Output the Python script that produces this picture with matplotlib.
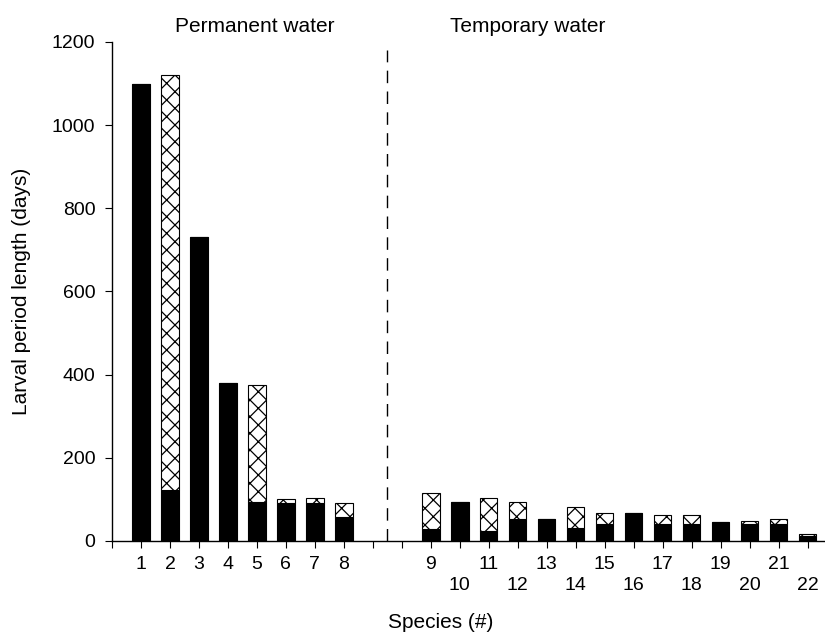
""" Larval period length per species, permanent vs temporary water

"""

import matplotlib
matplotlib.use("Agg")
import matplotlib.pyplot as plt

# --------------------------------------------------
#   Data
# --------------------------------------------------

species = list(range(1, 23))
# black part of each bar (days)
black_part = [1100, 122, 730, 380, 93, 92, 92, 58,
              30, 93, 25, 52, 52, 32, 41, 68, 41, 40, 46, 42, 41, 12]
# total bar height, top of the hatched part (days)
total = [1100, 1120, 730, 380, 375, 100, 103, 92,
         115, 93, 104, 93, 52, 82, 68, 68, 62, 62, 46, 47, 52, 18]
group_titles = ["Permanent water", "Temporary water"]

# --------------------------------------------------
#   Plot
# --------------------------------------------------

plt.rcParams["font.family"] = ["Liberation Sans", "DejaVu Sans"]
plt.rcParams["hatch.linewidth"] = 0.9

# species 1-8 at positions 1-8, two empty slots, then 9-22 at 11-24
positions = [s if s <= 8 else s + 2 for s in species]
hatched = [t - b for t, b in zip(total, black_part)]

fig = plt.figure(figsize=(8.25, 6.34), dpi=100)
ax = fig.add_axes([0.1358, 0.1467, 0.8642, 0.7871])

ax.bar(positions, black_part, width=0.6, color="black",
       edgecolor="black", linewidth=0.8)
ax.bar(positions, hatched, width=0.6, bottom=black_part, color="white",
       edgecolor="black", linewidth=0.8, hatch="xx")

ax.plot([9.5, 9.5], [0, 1180], color="black", linewidth=1.0,
        dashes=(9, 6))

ax.set_xlim(0, 24.6)
ax.set_ylim(0, 1200)
ax.set_yticks(range(0, 1201, 200))

tick_labels = [""] * 25
for s, p in zip(species, positions):
    tick_labels[p] = str(s) if (s <= 8 or s % 2 == 1) else "\n" + str(s)
ax.set_xticks(range(25))
ax.set_xticklabels(tick_labels, linespacing=1.3)

ax.tick_params(axis="both", direction="out", length=5, width=0.8,
               labelsize=14)
ax.tick_params(axis="x", pad=6)
ax.tick_params(axis="y", pad=7)
for side in ["top", "right"]:
    ax.spines[side].set_visible(False)
for side in ["left", "bottom"]:
    ax.spines[side].set_linewidth(1.0)

ax.set_ylabel("Larval period length (days)", fontsize=15, va="center")
ax.yaxis.set_label_coords((21 - 112) / 713, 0.5)
ax.set_xlabel("Species (#)", fontsize=15, va="center")
ax.xaxis.set_label_coords((441 - 112) / 713, (541 - 623) / 499)

fig.text(255 / 825, 1 - 26 / 634, group_titles[0], fontsize=15,
         ha="center", va="center")
fig.text(528 / 825, 1 - 26 / 634, group_titles[1], fontsize=15,
         ha="center", va="center")

fig.savefig("out.png", dpi=100)
